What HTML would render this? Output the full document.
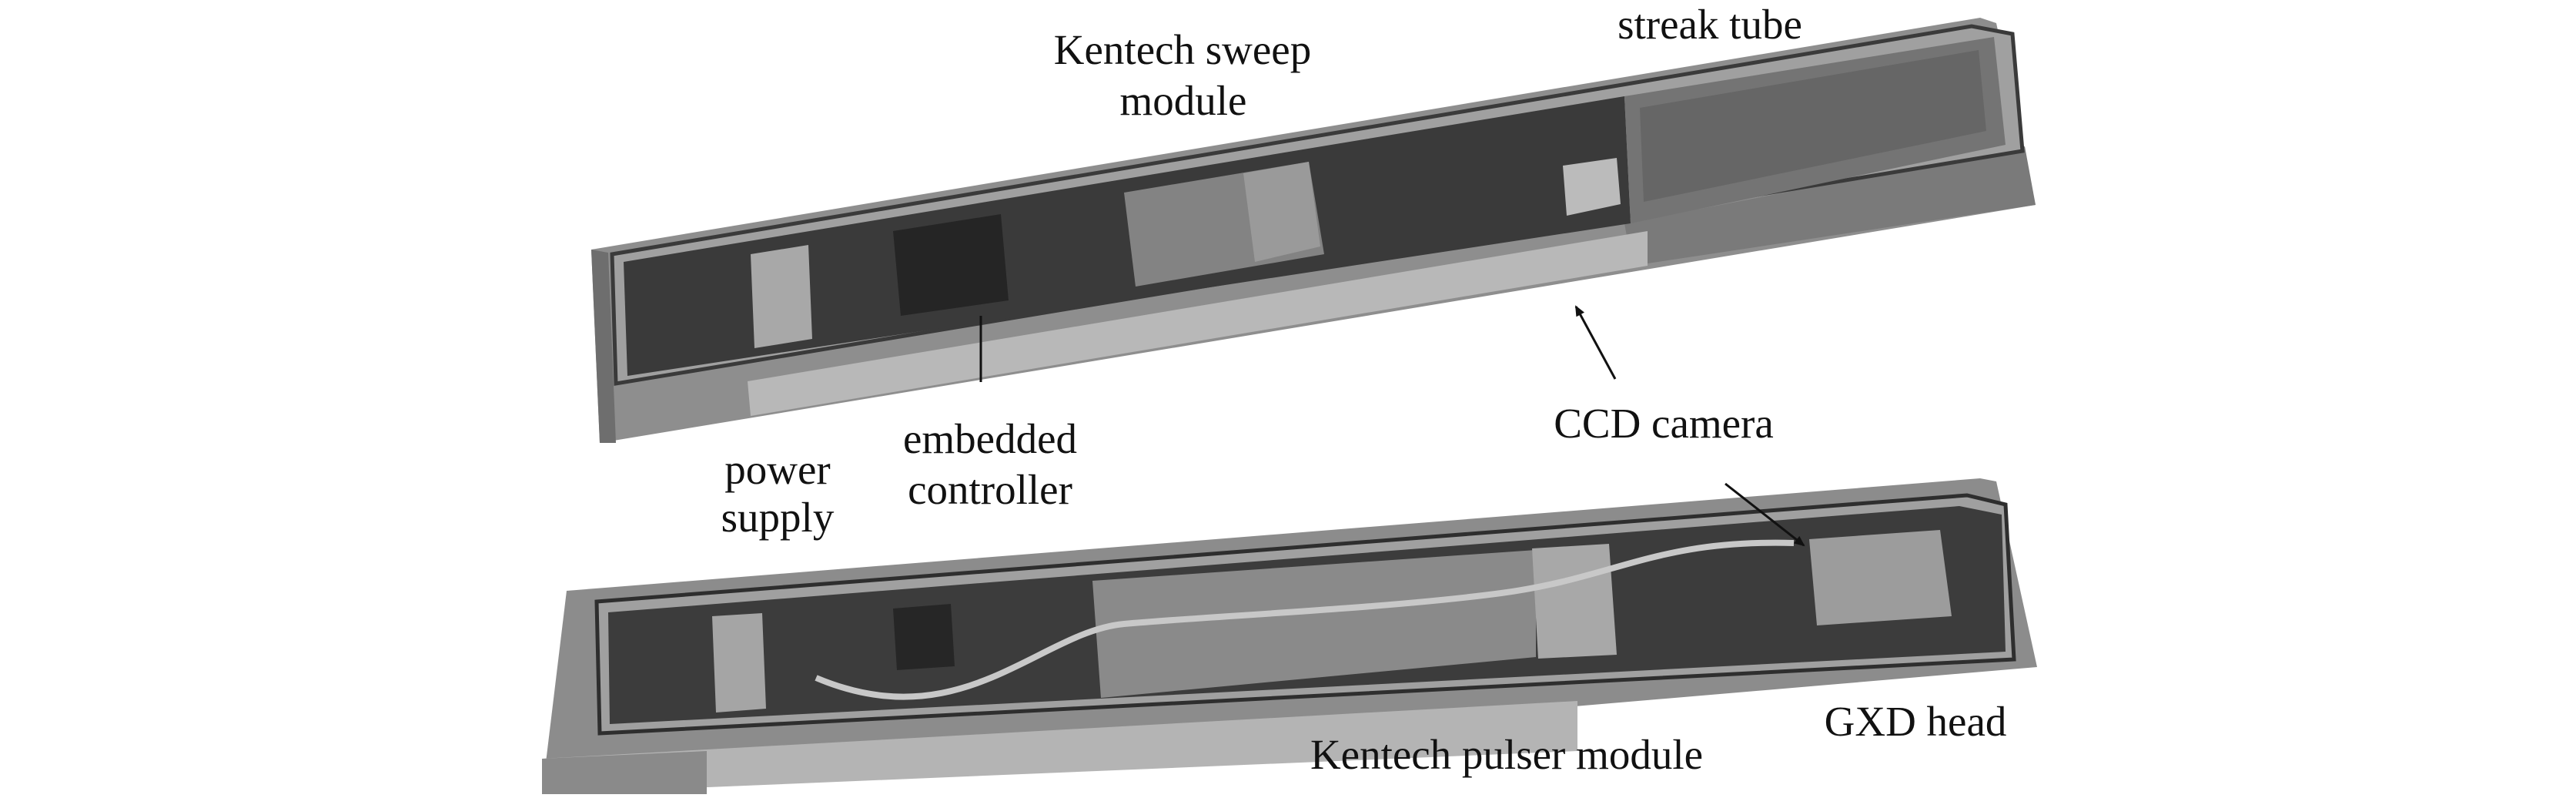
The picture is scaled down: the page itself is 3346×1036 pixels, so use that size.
<!DOCTYPE html>
<html><head><meta charset="utf-8"><style>
html,body{margin:0;padding:0;background:#fff}
svg{display:block}
text{font-family:"Liberation Serif",serif;font-size:55px;fill:#111}
</style></head><body>
<svg width="3346" height="1036" viewBox="0 0 3346 1036" xmlns="http://www.w3.org/2000/svg">
<defs>
<marker id="ah" markerWidth="14" markerHeight="12" refX="12" refY="6" orient="auto" markerUnits="userSpaceOnUse"><path d="M0,0 L14,6 L0,12 z" fill="#111"/></marker>
</defs>
<!-- top box -->
<polygon points="768,324 2572,23 2593,30 2644,266 779,575" fill="#8e8e8e"/>
<polygon points="2120,345 2644,266 2630,190 2110,290" fill="#7a7a7a"/>
<polygon points="768,324 790,328 800,575 779,575" fill="#6e6e6e"/>
<polygon points="795,330 2561,34 2614,44 2627,196 800,498" fill="#a0a0a0" stroke="#3a3a3a" stroke-width="5"/>
<polygon points="810,340 2110,125 2118,290 815,488" fill="#3a3a3a"/>
<polygon points="2110,125 2590,48 2605,188 2118,290" fill="#747474"/>
<polygon points="2130,140 2570,65 2580,170 2135,262" fill="#666"/>
<polygon points="1460,250 1700,210 1720,330 1475,372" fill="#838383"/>
<polygon points="1615,225 1700,210 1715,320 1630,340" fill="#9a9a9a"/>
<polygon points="975,330 1050,318 1055,440 980,452" fill="#a8a8a8"/>
<polygon points="1160,300 1300,278 1310,390 1170,410" fill="#252525"/>
<polygon points="2030,215 2100,205 2105,265 2035,280" fill="#bbb"/>
<polygon points="971,495 2140,300 2140,345 975,540" fill="#b8b8b8"/>
<line x1="1274" y1="410" x2="1274" y2="496" stroke="#111" stroke-width="3"/>
<!-- bottom box -->
<polygon points="736,767 2572,621 2593,625 2646,866 704,1031" fill="#8c8c8c"/>
<polygon points="775,781 2555,643 2605,655 2616,856 779,952" fill="#a0a0a0" stroke="#2e2e2e" stroke-width="5"/>
<polygon points="790,795 2545,657 2600,668 2605,846 792,940" fill="#3c3c3c"/>
<polygon points="1419,754 1995,714 1995,853 1430,906" fill="#8a8a8a"/>
<polygon points="1990,712 2090,706 2100,850 1998,855" fill="#a8a8a8"/>
<polygon points="925,800 990,796 995,920 930,925" fill="#a5a5a5"/>
<polygon points="2350,700 2520,688 2535,800 2360,812" fill="#9c9c9c"/>
<polygon points="1160,790 1235,784 1240,865 1165,870" fill="#262626"/>
<path d="M1060,880 C1250,960 1350,820 1460,810 S1800,790 1950,770 S2150,700 2330,705" stroke="#c8c8c8" stroke-width="8" fill="none"/>
<polygon points="704,985 2049,910 2049,975 704,1031" fill="#b4b4b4"/>
<polygon points="704,985 918,975 918,1031 704,1031" fill="#8a8a8a"/>
<!-- arrows -->
<line x1="2098" y1="492" x2="2047" y2="398" stroke="#111" stroke-width="3" marker-end="url(#ah)"/>
<line x1="2241" y1="628" x2="2343" y2="708" stroke="#111" stroke-width="3" marker-end="url(#ah)"/>
<!-- labels -->
<text x="1536" y="83" text-anchor="middle">Kentech sweep</text>
<text x="1537" y="149" text-anchor="middle">module</text>
<text x="2221" y="50" text-anchor="middle">streak tube</text>
<text x="2161" y="568" text-anchor="middle">CCD camera</text>
<text x="1286" y="588" text-anchor="middle">embedded</text>
<text x="1286" y="654" text-anchor="middle">controller</text>
<text x="1010" y="628" text-anchor="middle">power</text>
<text x="1010" y="690" text-anchor="middle">supply</text>
<text x="2488" y="955" text-anchor="middle">GXD head</text>
<text x="1957" y="998" text-anchor="middle">Kentech pulser module</text>
</svg>
</body></html>
